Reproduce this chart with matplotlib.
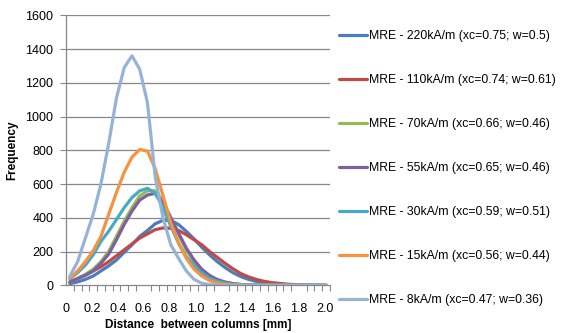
import numpy as np
import matplotlib
matplotlib.use("Agg")
import matplotlib.pyplot as plt
from matplotlib.ticker import FixedLocator, MultipleLocator

plt.rcParams['font.family'] = ['Liberation Sans', 'DejaVu Sans']

# Distance bins [mm] (bin centres, 0.06 mm wide)
distance = np.round(0.03 + 0.06 * np.arange(34), 2)

# Frequency per bin for each applied field
mre_220 = [10, 20, 35, 55, 85, 115, 150, 195, 240, 290, 325, 365, 385, 385, 360, 320,
           275, 225, 180, 140, 105, 75, 52, 35, 23, 14, 9, 5, 3, 2, 1, 0, 0, 0]
mre_110 = [20, 40, 60, 85, 110, 140, 175, 210, 245, 280, 305, 330, 340, 338, 325, 300,
           270, 240, 200, 165, 130, 98, 70, 50, 35, 24, 16, 11, 7, 4, 2, 1, 0, 0]
mre_70 = [20, 40, 65, 95, 140, 200, 290, 380, 460, 530, 560, 560, 500, 400, 300, 210,
          140, 90, 55, 32, 18, 10, 5, 2, 1, 0, 0, 0, 0, 0, 0, 0, 0, 0]
mre_55 = [20, 40, 60, 85, 130, 185, 270, 360, 440, 505, 535, 545, 490, 400, 310, 220,
          150, 95, 58, 34, 19, 10, 5, 2, 1, 0, 0, 0, 0, 0, 0, 0, 0, 0]
mre_30 = [40, 75, 120, 180, 260, 320, 390, 460, 520, 560, 575, 545, 460, 350, 250, 170,
          115, 72, 42, 24, 13, 7, 3, 1, 0, 0, 0, 0, 0, 0, 0, 0, 0, 0]
mre_15 = [45, 85, 140, 205, 290, 420, 550, 670, 760, 805, 795, 690, 530, 370, 250, 160,
          95, 55, 28, 13, 6, 3, 1, 0, 0, 0, 0, 0, 0, 0, 0, 0, 0, 0]
mre_8 = [55, 140, 280, 420, 600, 840, 1110, 1290, 1360, 1280, 1080, 640, 400, 240, 160, 85,
         35, 12, 4, 1, 0, 0, 0, 0, 0, 0, 0, 0, 0, 0, 0, 0, 0, 0]

labels = [
    "MRE - 220kA/m (xc=0.75; w=0.5)",
    "MRE - 110kA/m (xc=0.74; w=0.61)",
    "MRE - 70kA/m (xc=0.66; w=0.46)",
    "MRE - 55kA/m (xc=0.65; w=0.46)",
    "MRE - 30kA/m (xc=0.59; w=0.51)",
    "MRE - 15kA/m (xc=0.56; w=0.44)",
    "MRE - 8kA/m (xc=0.47; w=0.36)",
]
series = [mre_220, mre_110, mre_70, mre_55, mre_30, mre_15, mre_8]
colors = ["#4A7EBB", "#BE4B48", "#98B954", "#7D60A0", "#46AAC5", "#F69240", "#95B3D7"]

x_ticks = [0, 0.2, 0.4, 0.6, 0.8, 1.0, 1.2, 1.4, 1.6, 1.8, 2.0]
x_tick_labels = ["0", "0.2", "0.4", "0.6", "0.8", "1.0", "1.2", "1.4", "1.6", "1.8", "2.0"]
y_ticks = [0, 200, 400, 600, 800, 1000, 1200, 1400, 1600]

fig = plt.figure(figsize=(5.61, 3.33), dpi=100)
ax = fig.add_axes([0.1176, 0.1432, 0.4706, 0.8108])

grid_c = "#878787"
for y in y_ticks[1:]:
    ax.axhline(y, color=grid_c, lw=0.9, zorder=0)

for vals, lab, c in zip(series, labels, colors):
    ax.plot(distance, vals, color=c, lw=2.3, label=lab, solid_joinstyle="round",
            solid_capstyle="round", zorder=2)

ax.set_xlim(0, 2.04)
ax.set_ylim(0, 1600)
ax.xaxis.set_major_locator(FixedLocator(x_ticks))
ax.set_xticklabels(x_tick_labels)
ax.xaxis.set_minor_locator(MultipleLocator(0.06))
ax.set_yticks(y_ticks)

for s in ("top", "right"):
    ax.spines[s].set_visible(False)
for s in ("left", "bottom"):
    ax.spines[s].set_color(grid_c)
    ax.spines[s].set_linewidth(0.9)

ax.tick_params(axis="x", which="major", length=0, pad=13, labelsize=9, colors="black")
ax.tick_params(axis="x", which="minor", length=4, width=0.8, color=grid_c, direction="out")
ax.tick_params(axis="y", which="major", length=4, width=0.8, color=grid_c, pad=5,
               labelsize=9, labelcolor="black")

ax.set_xlabel("Distance  between columns [mm]", fontsize=8.5, fontweight="bold")
ax.xaxis.set_label_coords(0.5, -0.125)
ax.set_ylabel("Frequency", fontsize=8.5, fontweight="bold", va="center")
ax.yaxis.set_label_coords(-0.205, 0.5)

fig.legend(loc="upper left", bbox_to_anchor=(339 / 561, 1 - 30 / 333), frameon=False,
           fontsize=8.8, handlelength=2.3, handletextpad=0.15, labelspacing=2.62,
           borderpad=0, borderaxespad=0)

fig.savefig("out.png", dpi=100)
